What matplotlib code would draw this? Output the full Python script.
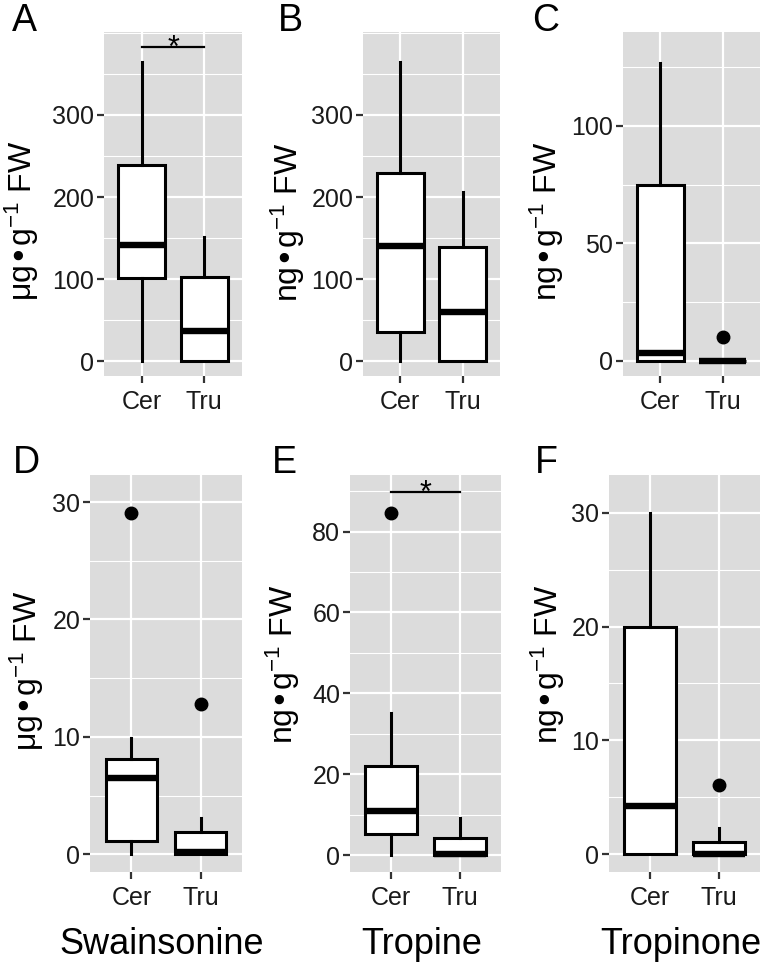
import matplotlib
matplotlib.use('Agg')
import matplotlib.pyplot as plt
from matplotlib.ticker import MultipleLocator

plt.rcParams['font.family'] = ['Liberation Sans', 'DejaVu Sans']
plt.rcParams['mathtext.default'] = 'regular'

groups = ['Cer', 'Tru']
compounds = ['Swainsonine', 'Tropine', 'Tropinone']
panel_letters = ['A', 'B', 'C', 'D', 'E', 'F']
units = ['μg•g$^{-1}$ FW', 'ng•g$^{-1}$ FW', 'ng•g$^{-1}$ FW',
         'μg•g$^{-1}$ FW', 'ng•g$^{-1}$ FW', 'ng•g$^{-1}$ FW']

# box stats per panel: whislo, q1, median, q3, whishi
cer_stats = [
    [0, 101, 141, 239, 364],
    [0, 36, 140, 229, 364],
    [0, 0, 3.5, 75, 127],
    [0, 1.1, 6.5, 8.1, 9.9],
    [0, 5.2, 11, 21.9, 35.2],
    [0, 0, 4.2, 20, 30],
]
tru_stats = [
    [0, 0, 37, 102, 151],
    [0, 0, 60, 139, 206],
    [0, 0, 0, 0, 0],
    [0, 0, 0.2, 1.9, 3.1],
    [0, 0, 0.2, 4.1, 9.2],
    [0, 0, 0.05, 1.05, 2.3],
]
cer_outliers = [[], [], [], [29.1], [84.6], []]
tru_outliers = [[], [], [10], [12.8], [], [6.1]]

# significance bar height (None = no bar)
sig_height = [383, None, None, None, 89.8, None]

y_ticks = [[0, 100, 200, 300], [0, 100, 200, 300], [0, 50, 100],
           [0, 10, 20, 30], [0, 20, 40, 60, 80], [0, 10, 20, 30]]
y_limits = [(-18, 401), (-18, 401), (-6.4, 140), (-1.5, 32.3), (-4.2, 94), (-1.55, 33.3)]

W, H = 762, 965
# panel boxes in pixels: left, top, right, bottom
panel_px = [(104, 32, 242, 376), (363, 32, 500, 376), (623, 32, 760, 376),
            (90, 475, 242, 872), (350, 475, 501, 872), (609, 475, 760, 872)]
letter_px = [(12, 31), (278, 31), (532, 31), (13, 473), (272, 473), (535, 473)]
ylabel_px = [(32, 221), (298, 222), (557, 221), (37, 671), (293, 664), (558, 664)]


def fx(x):
    return x / W


def fy(y):
    return 1 - y / H


def to_stats(s, fl):
    return {'whislo': s[0], 'q1': s[1], 'med': s[2], 'q3': s[3], 'whishi': s[4], 'fliers': fl}


fig = plt.figure(figsize=(W / 100, H / 100), dpi=100)
bg = '#DCDCDC'

for i in range(6):
    l, t, r, b = panel_px[i]
    ax = fig.add_axes([fx(l), fy(b), (r - l) / W, (b - t) / H])
    ax.set_facecolor(bg)
    ax.set_axisbelow(True)
    for s in ax.spines.values():
        s.set_visible(False)

    stats = [to_stats(cer_stats[i], cer_outliers[i]), to_stats(tru_stats[i], tru_outliers[i])]
    ax.bxp(stats, positions=[1, 2], widths=0.75, showcaps=False, patch_artist=True,
           boxprops=dict(facecolor='white', edgecolor='black', linewidth=2.2, joinstyle='miter'),
           medianprops=dict(color='black', linewidth=4.6, solid_capstyle='butt'),
           whiskerprops=dict(color='black', linewidth=2.2),
           flierprops=dict(marker='o', markerfacecolor='black', markeredgecolor='black',
                           markersize=9))

    if sig_height[i] is not None:
        h = sig_height[i]
        ax.plot([1, 2], [h, h], color='black', lw=1.6)
        ax.annotate('*', xy=(1.5, h), xytext=(0, -7), textcoords='offset points',
                    ha='center', va='baseline', fontsize=22)

    ax.set_xlim(0.4, 2.6)
    ax.set_ylim(*y_limits[i])
    ax.set_xticks([1, 2])
    ax.set_xticklabels(groups)
    ax.set_yticks(y_ticks[i])
    ax.yaxis.set_minor_locator(MultipleLocator(y_ticks[i][1] / 2))
    ax.grid(which='major', color='white', lw=1.6)
    ax.grid(which='minor', axis='y', color='white', lw=0.8)
    ax.tick_params(which='major', length=5, width=1.6, color='#333333',
                   labelsize=18, labelcolor='#1a1a1a')
    ax.tick_params(axis='y', which='major', pad=2)
    ax.tick_params(axis='x', which='major', pad=5)
    ax.tick_params(which='minor', length=0)

    lx, ly = letter_px[i]
    fig.text(fx(lx), fy(ly), panel_letters[i], fontsize=27, ha='left', va='baseline')

    yx, yy = ylabel_px[i]
    fig.text(fx(yx), fy(yy), units[i], fontsize=23, rotation=90, rotation_mode='anchor',
             ha='center', va='baseline')

    if i >= 3:
        cx = (l + r) / 2 - 4
        fig.text(fx(cx), fy(954), compounds[i - 3], fontsize=26, ha='center', va='baseline')

fig.savefig('out.png', dpi=100)
